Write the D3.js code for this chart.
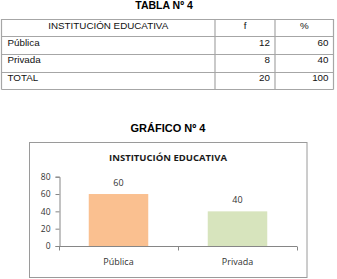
<!DOCTYPE html>
<html>
<head>
<meta charset="utf-8">
<script src="https://cdn.jsdelivr.net/npm/d3@7"></script>
<style>
  body { margin: 0; background: #fff; }
  svg { display: block; }
</style>
</head>
<body>
<svg id="page" width="337" height="279"></svg>
<script>
// table data
var tableHeader = ['INSTITUCIÓN EDUCATIVA', 'f', '%'];
var categories = ['Pública', 'Privada'];
var freq = [12, 8];
var percent = [60, 40];
var totalRow = ['TOTAL', 20, 100];
var yTicks = [0, 20, 40, 60, 80];
var barColors = ['#FAC090', '#D7E4BD'];

var svg = d3.select('#page');

// ---- table ----
svg.append('text')
    .attr('x', 164).attr('y', 9)
    .attr('text-anchor', 'middle')
    .style('font', 'bold 10.5px "Liberation Sans", Arial, sans-serif')
    .text('TABLA Nº 4');

var colX = [1.5, 215, 275, 333.5];
var rowY = [19, 36, 54, 72, 89];
var rows = [tableHeader].concat(categories.map(function (c, i) {
    return [c, freq[i], percent[i]];
})).concat([totalRow]);

var tbl = svg.append('g').attr('stroke', '#a6a6a6').attr('stroke-width', 1.2);
rowY.forEach(function (y) {
    tbl.append('line').attr('x1', colX[0]).attr('x2', colX[3])
        .attr('y1', y + 0.5).attr('y2', y + 0.5);
});
colX.forEach(function (x) {
    tbl.append('line').attr('x1', x).attr('x2', x)
        .attr('y1', rowY[0]).attr('y2', rowY[4] + 0.5);
});

rows.forEach(function (r, ri) {
    var base = rowY[ri] + 10 - ri * 0.3;
    r.forEach(function (v, ci) {
        var t = svg.append('text')
            .attr('y', base)
            .style('font', '9.8px "Liberation Sans", Arial, sans-serif')
            .attr('fill', '#111')
            .text(v);
        if (ri === 0) {
            t.attr('x', (colX[ci] + colX[ci + 1]) / 2).attr('text-anchor', 'middle');
        } else if (ci === 0) {
            t.attr('x', colX[0] + 6);
        } else {
            t.attr('x', colX[ci + 1] - 5).attr('text-anchor', 'end');
        }
    });
});

// ---- chart ----
svg.append('text')
    .attr('x', 168).attr('y', 132)
    .attr('text-anchor', 'middle')
    .style('font', 'bold 11px "Liberation Sans", Arial, sans-serif')
    .text('GRÁFICO Nº 4');

svg.append('rect')
    .attr('x', 29.5).attr('y', 142.5)
    .attr('width', 277.5).attr('height', 135)
    .attr('fill', '#fff').attr('stroke', '#9a9a9a');

svg.append('text')
    .attr('x', 168).attr('y', 161)
    .attr('text-anchor', 'middle')
    .attr('fill', '#1a1a1a')
    .style('font', 'bold 9.5px "Open Sans", sans-serif')
    .text('INSTITUCIÓN EDUCATIVA');

var x = d3.scaleBand().domain(categories).range([59, 297]).paddingInner(0.5).paddingOuter(0.25);
var y = d3.scaleLinear().domain([0, 80]).range([246, 176.7]);

var g = svg.append('g');
var axisColor = '#868686';
var font = '9px "Open Sans", sans-serif';

// y axis
var yAxis = g.append('g').attr('transform', 'translate(59.5,0)')
    .call(d3.axisLeft(y).tickValues(yTicks).tickSize(4).tickPadding(5));
yAxis.select('.domain').attr('stroke', axisColor);
yAxis.selectAll('.tick line').attr('stroke', axisColor);
yAxis.selectAll('.tick text').attr('fill', '#333').style('font', '8.5px "Open Sans", sans-serif');

// x axis
var xAxis = g.append('g').attr('transform', 'translate(0,' + (y(0) + 0.5) + ')')
    .call(d3.axisBottom(x).tickSize(0).tickPadding(12));
xAxis.select('.domain').attr('stroke', axisColor).attr('d', 'M59,0H297');
xAxis.selectAll('.tick line').remove();
xAxis.selectAll('.tick text').attr('fill', '#333').style('font', font);
[59, 178, 297].forEach(function (px) {
    xAxis.append('line').attr('x1', px + 0.5).attr('x2', px + 0.5)
        .attr('y1', 0).attr('y2', 4).attr('stroke', axisColor);
});

// bars
g.selectAll('.bar').data(categories).enter().append('rect')
    .attr('class', 'bar')
    .attr('x', function (d) { return x(d); })
    .attr('width', x.bandwidth())
    .attr('y', function (d, i) { return y(percent[i]); })
    .attr('height', function (d, i) { return y(0) - y(percent[i]); })
    .attr('fill', function (d, i) { return barColors[i]; });

g.selectAll('.lbl').data(categories).enter().append('text')
    .attr('class', 'lbl')
    .attr('x', function (d) { return x(d) + x.bandwidth() / 2; })
    .attr('y', function (d, i) { return y(percent[i]) - 8; })
    .attr('text-anchor', 'middle')
    .attr('fill', '#333')
    .style('font', font)
    .text(function (d, i) { return percent[i]; });
</script>
</body>
</html>
